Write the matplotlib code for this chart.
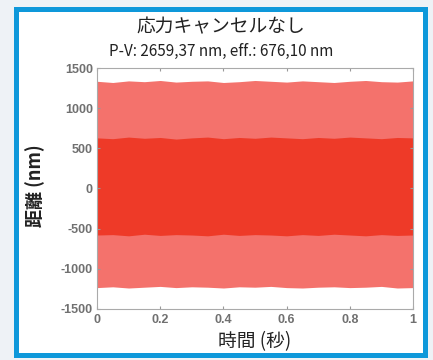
import numpy as np
import matplotlib
matplotlib.use("Agg")
import matplotlib.pyplot as plt
from matplotlib.patches import Rectangle

plt.rcParams['font.family'] = ['Noto Sans CJK JP', 'DejaVu Sans']
plt.rcParams['axes.unicode_minus'] = False

# envelope of the dense displacement signal
t = [0.0, 0.05, 0.1, 0.15, 0.2, 0.25, 0.3, 0.35, 0.4, 0.45, 0.5,
     0.55, 0.6, 0.65, 0.7, 0.75, 0.8, 0.85, 0.9, 0.95, 1.0]
outer_top = [1335, 1320, 1340, 1330, 1345, 1325, 1335, 1340, 1320, 1330, 1345,
             1335, 1325, 1340, 1330, 1320, 1335, 1345, 1330, 1325, 1340]
outer_bot = [-1235, -1225, -1240, -1230, -1220, -1235, -1225, -1230, -1240, -1225, -1230,
             -1220, -1235, -1240, -1230, -1225, -1235, -1230, -1220, -1240, -1235]
inner_top = [630, 620, 640, 625, 635, 615, 630, 640, 620, 635, 625,
             640, 630, 620, 635, 625, 640, 630, 620, 635, 630]
inner_bot = [-580, -575, -590, -570, -585, -575, -580, -590, -570, -585, -575,
             -580, -590, -575, -585, -570, -580, -590, -575, -585, -580]

xticks = [0, 0.2, 0.4, 0.6, 0.8, 1]
xticklabels = ['0', '0.2', '0.4', '0.6', '0.8', '1']
yticks = [-1500, -1000, -500, 0, 500, 1000, 1500]

title = '応力キャンセルなし'
subtitle = 'P-V: 2659,37 nm, eff.: 676,10 nm'

fig = plt.figure(figsize=(4.33, 3.6), dpi=100)
fig.patch.set_facecolor('#eef2f6')
fig.patches.append(Rectangle((0.036, 0.015), 0.945, 0.96, transform=fig.transFigure,
                             facecolor='white', edgecolor='#0e98da', linewidth=3.6,
                             zorder=-5))

ax = fig.add_axes([0.224, 0.142, 0.730, 0.669])
ax.fill_between(t, outer_bot, outer_top, color='#f4726c', linewidth=0)
ax.fill_between(t, inner_bot, inner_top, color='#ee3a28', linewidth=0)

ax.set_xlim(0, 1)
ax.set_ylim(-1500, 1500)
ax.set_xticks(xticks)
ax.set_xticklabels(xticklabels)
ax.set_yticks(yticks)
ax.tick_params(direction='in', length=2, colors='#999999', labelcolor='#707070',
               labelsize=9, top=True, right=True)
ax.tick_params(axis='x', pad=4)
ax.tick_params(axis='y', pad=3)
for lab in ax.get_xticklabels() + ax.get_yticklabels():
    lab.set_family('Liberation Sans')
    lab.set_fontweight('bold')
for s in ax.spines.values():
    s.set_color('#aaaaaa')
    s.set_linewidth(0.8)

fig.text(0.511, 0.925, title, ha='center', va='center', fontsize=13.5, color='#222222')
fig.text(0.511, 0.856, subtitle, ha='center', va='center', fontsize=11, color='#222222')
fig.text(0.587, 0.052, '時間 (秒)', ha='center', va='center', fontsize=13.5, color='#222222')
fig.text(0.081, 0.483, '距離 (nm)', ha='center', va='center', rotation=90,
         fontsize=13, fontweight='bold', color='#222222')

fig.savefig('out.png', dpi=100)
